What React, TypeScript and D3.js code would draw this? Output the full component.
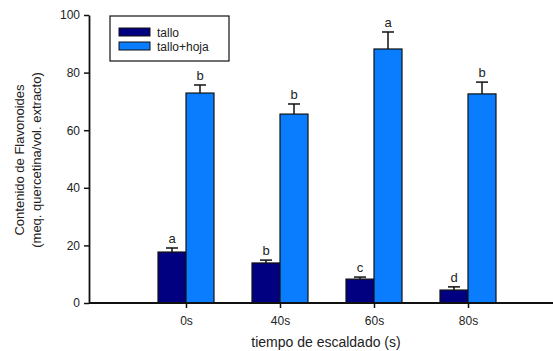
import { useEffect, useRef } from "react";
import * as d3 from "d3";

// tiempos de escaldado
const TIEMPOS = ["0s", "40s", "60s", "80s"];
const SERIES = ["tallo", "tallo+hoja"];

// valores medios y error
const TALLO = [17.7, 13.9, 8.3, 4.5];
const TALLO_ERR = [1.4, 1.0, 0.7, 1.1];
const TALLO_LETRAS = ["a", "b", "c", "d"];

const HOJA = [72.9, 65.6, 88.2, 72.6];
const HOJA_ERR = [2.8, 3.5, 5.9, 4.1];
const HOJA_LETRAS = ["b", "b", "a", "b"];

const Y_TICKS = [0, 20, 40, 60, 80, 100];

const CORES: Record<string, string> = {
  tallo: "#000080",
  "tallo+hoja": "#0a7dff",
};

const FONT = "Liberation Sans, Arial, sans-serif";

const App = () => {
  const svgRef = useRef<SVGSVGElement>(null);

  useEffect(() => {
    if (!svgRef.current) return;
    const svg = d3.select(svgRef.current);
    svg.selectAll("*").remove();

    const x0 = 89;
    const xEnd = 553;
    const yTop = 15;
    const yBottom = 303;
    const barW = 28;

    const x = d3.scalePoint<string>().domain(TIEMPOS).range([186, 468]);
    const y = d3.scaleLinear().domain([0, 100]).range([yBottom, yTop]);

    const g = svg.append("g");

    // barras
    const series = [
      { nome: "tallo", valores: TALLO, err: TALLO_ERR, letras: TALLO_LETRAS, off: -barW },
      { nome: "tallo+hoja", valores: HOJA, err: HOJA_ERR, letras: HOJA_LETRAS, off: 0 },
    ];

    series.forEach((s) => {
      TIEMPOS.forEach((t, i) => {
        const bx = (x(t) ?? 0) + s.off;
        const v = s.valores[i];
        const top = v + s.err[i];
        const cx = bx + barW / 2;

        // error bar
        g.append("line")
          .attr("x1", cx).attr("x2", cx)
          .attr("y1", y(v)).attr("y2", y(top))
          .attr("stroke", "#111").attr("stroke-width", 1.5);
        g.append("line")
          .attr("x1", cx - 6).attr("x2", cx + 6)
          .attr("y1", y(top)).attr("y2", y(top))
          .attr("stroke", "#111").attr("stroke-width", 1.5);

        g.append("rect")
          .attr("x", bx)
          .attr("y", y(v))
          .attr("width", barW)
          .attr("height", y(0) - y(v))
          .attr("fill", CORES[s.nome])
          .attr("stroke", "#111")
          .attr("stroke-width", 1.2);

        g.append("text")
          .attr("x", cx)
          .attr("y", y(top) - 5)
          .attr("text-anchor", "middle")
          .style("font-family", FONT)
          .style("font-size", "13px")
          .attr("fill", "#222")
          .text(s.letras[i]);
      });
    });

    // eixo Y
    const yAxis = g.append("g")
      .attr("transform", `translate(${x0},0)`)
      .call(d3.axisLeft(y).tickValues(Y_TICKS).tickSize(5).tickPadding(4).tickSizeOuter(0));
    yAxis.select(".domain").attr("stroke", "#111").attr("stroke-width", 1.8);
    yAxis.selectAll(".tick line").attr("stroke", "#111").attr("stroke-width", 1.5);
    yAxis.selectAll("text")
      .style("font-family", FONT)
      .style("font-size", "12px")
      .attr("fill", "#222");

    // eixo X
    const xAxis = g.append("g")
      .attr("transform", `translate(0,${yBottom})`)
      .call(d3.axisBottom(x).tickSize(5).tickPadding(8).tickSizeOuter(0));
    xAxis.select(".domain")
      .attr("d", `M${x0},0H${xEnd}`)
      .attr("stroke", "#111").attr("stroke-width", 1.8);
    xAxis.selectAll(".tick line").attr("stroke", "#111").attr("stroke-width", 1.5);
    xAxis.selectAll("text")
      .style("font-family", FONT)
      .style("font-size", "12px")
      .attr("fill", "#222");

    // títulos
    g.append("text")
      .attr("x", 326)
      .attr("y", 347)
      .attr("text-anchor", "middle")
      .style("font-family", FONT)
      .style("font-size", "14px")
      .attr("fill", "#222")
      .text("tiempo de escaldado (s)");

    const yLab = g.append("text")
      .attr("transform", "translate(0,160) rotate(-90)")
      .attr("text-anchor", "middle")
      .style("font-family", FONT)
      .style("font-size", "13px")
      .attr("fill", "#222");
    yLab.append("tspan").attr("x", 0).attr("y", 24).text("Contenido de Flavonoides");
    yLab.append("tspan").attr("x", 0).attr("y", 41).text("(meq. quercetina/vol. extracto)");

    // legenda
    const leg = g.append("g");
    leg.append("rect")
      .attr("x", 110).attr("y", 16).attr("width", 119).attr("height", 45)
      .attr("fill", "white").attr("stroke", "#111").attr("stroke-width", 1.2);
    SERIES.forEach((s, i) => {
      const yy = 28 + i * 14;
      leg.append("rect")
        .attr("x", 119).attr("y", yy).attr("width", 31).attr("height", 8)
        .attr("fill", CORES[s]).attr("stroke", "#111").attr("stroke-width", 1);
      leg.append("text")
        .attr("x", 157).attr("y", yy + 8.5)
        .style("font-family", FONT)
        .style("font-size", "12px")
        .attr("fill", "#222")
        .text(s);
    });
  }, []);

  return (
    <svg
      ref={svgRef}
      width={553}
      height={351}
      style={{ position: "absolute", left: 0, top: 0, background: "white" }}
    />
  );
};

export default App;
